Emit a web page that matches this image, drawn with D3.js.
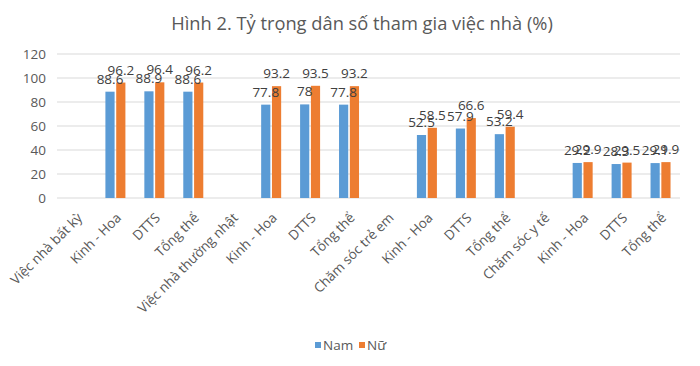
<!DOCTYPE html>
<html>
<head>
<meta charset="utf-8">
<script src="https://cdn.jsdelivr.net/npm/d3@7"></script>
<style>
body { margin: 0; background: #fff; }
text { font-family: "Open Sans", "Liberation Sans", sans-serif; }
</style>
</head>
<body>
<div id="chart-area"></div>
<script>
// ** Data **
var categories = ["Việc nhà bất kỳ", "Kinh - Hoa", "DTTS", "Tổng thể",
	"Việc nhà thường nhật", "Kinh - Hoa", "DTTS", "Tổng thể",
	"Chăm sóc trẻ em", "Kinh - Hoa", "DTTS", "Tổng thể",
	"Chăm sóc y tế", "Kinh - Hoa", "DTTS", "Tổng thể"];
var series = ["Nam", "Nữ"];
var namValues = [null, 88.6, 88.9, 88.6, null, 77.8, 78, 77.8, null, 52.5, 57.9, 53.2, null, 29.2, 28.3, 29.1];
var nuValues = [null, 96.2, 96.4, 96.2, null, 93.2, 93.5, 93.2, null, 58.5, 66.6, 59.4, null, 29.9, 29.5, 29.9];
var yTicks = [0, 20, 40, 60, 80, 100, 120];
var colors = ["#5B9BD5", "#ED7D31"];
var title = "Hình 2. Tỷ trọng dân số tham gia việc nhà (%)";

// ** Dimensions **
var W = 700, H = 366;
var margin = { left: 57, right: 20, top: 54, bottom: 168 };
var width = W - margin.left - margin.right;
var height = H - margin.top - margin.bottom;

var svg = d3.select("#chart-area")
	.append("svg")
	.attr("width", W)
	.attr("height", H);

svg.append("text")
	.attr("x", 362)
	.attr("y", 30)
	.attr("text-anchor", "middle")
	.attr("font-size", 18.3)
	.attr("fill", "#595959")
	.text(title);

var g = svg.append("g")
	.attr("transform", "translate(" + margin.left + "," + margin.top + ")");

// Scales
var idx = categories.map(function(d, i){ return i; });
var x = d3.scaleBand().domain(idx).range([0, width]);
var x1 = d3.scaleBand().domain(series).range([-10, 10]).paddingInner(0.15);
var y = d3.scaleLinear().domain([0, 120]).range([height, 0]);

// Gridlines
g.selectAll(".grid")
	.data(yTicks)
	.enter().append("line")
	.attr("x1", 0)
	.attr("x2", width)
	.attr("y1", function(d){ return y(d); })
	.attr("y2", function(d){ return y(d); })
	.attr("stroke", "#d9d9d9")
	.attr("stroke-width", 1);

// Y axis
var yAxisCall = d3.axisLeft(y).tickValues(yTicks).tickSize(0).tickPadding(11);
var yAxis = g.append("g").call(yAxisCall);
yAxis.select(".domain").remove();
yAxis.selectAll("text")
	.attr("font-size", 13.5)
	.attr("fill", "#595959")
	.style("font-family", "'Open Sans', sans-serif");

// X axis labels
var xAxisCall = d3.axisBottom(x).tickSize(0).tickFormat(function(i){ return categories[i]; });
var xAxis = g.append("g")
	.attr("transform", "translate(0," + height + ")")
	.call(xAxisCall);
xAxis.select(".domain").remove();
xAxis.selectAll("text")
	.attr("font-size", 13.5)
	.attr("fill", "#595959")
	.attr("text-anchor", "end")
	.attr("dy", "0.7em")
	.attr("transform", "translate(0,14) rotate(-45)")
	.attr("y", 0)
	.attr("x", 0)
	.style("font-family", "'Open Sans', sans-serif");

// Bars
var rows = [];
categories.forEach(function(c, i){
	if (namValues[i] != null) rows.push({ i: i, s: "Nam", v: namValues[i], c: colors[0] });
	if (nuValues[i] != null) rows.push({ i: i, s: "Nữ", v: nuValues[i], c: colors[1] });
});

g.selectAll("rect.bar")
	.data(rows)
	.enter().append("rect")
	.attr("class", "bar")
	.attr("x", function(d){ return x(d.i) + x.bandwidth() / 2 + x1(d.s); })
	.attr("y", function(d){ return y(d.v); })
	.attr("width", x1.bandwidth())
	.attr("height", function(d){ return height - y(d.v); })
	.attr("fill", function(d){ return d.c; });

// Data labels
g.selectAll("text.lbl")
	.data(rows)
	.enter().append("text")
	.attr("class", "lbl")
	.attr("x", function(d){ return x(d.i) + x.bandwidth() / 2 + x1(d.s) + x1.bandwidth() / 2; })
	.attr("y", function(d){ return y(d.v) - 8; })
	.attr("text-anchor", "middle")
	.attr("font-size", 13.5)
	.attr("fill", "#404040")
	.text(function(d){ return d.v; });

// Legend
var legend = svg.append("g").attr("transform", "translate(315, 346)");
series.forEach(function(s, i){
	var row = legend.append("g").attr("transform", "translate(" + (i * 44) + ",0)");
	row.append("rect")
		.attr("x", 0).attr("y", -4)
		.attr("width", 6).attr("height", 6)
		.attr("fill", colors[i]);
	row.append("text")
		.attr("x", 8).attr("y", 4)
		.attr("font-size", 13.5)
		.attr("fill", "#595959")
		.text(s);
});
</script>
</body>
</html>
